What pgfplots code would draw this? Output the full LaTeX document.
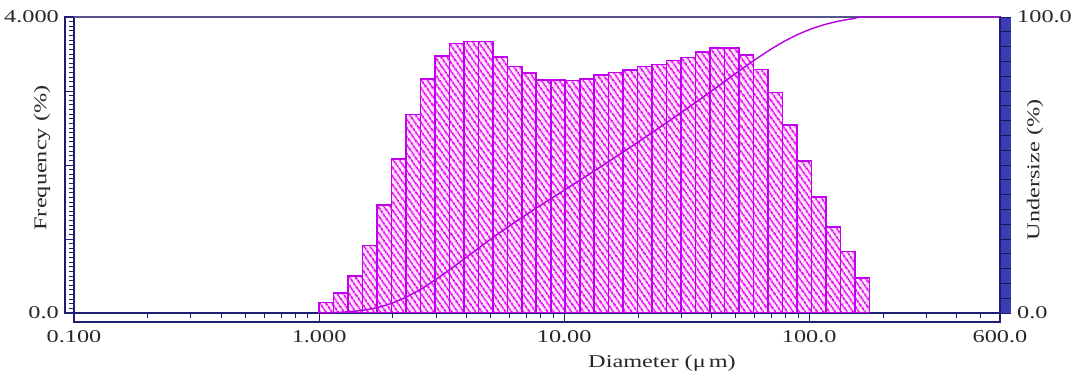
\documentclass[border=0pt]{standalone}
\usepackage{pgfplots}
\pgfplotsset{compat=1.18}
\usepackage{pgfplotstable}
\usepackage{fontspec}
\setmainfont{Liberation Serif}[FakeStretch=1.35]
\usetikzlibrary{patterns.meta}
\definecolor{navy}{RGB}{30,30,115}
\definecolor{topline}{RGB}{85,85,140}
\definecolor{stripblue}{RGB}{60,60,180}
\definecolor{barfill}{RGB}{255,228,255}
\definecolor{hatch}{RGB}{228,20,238}
\definecolor{baredge}{RGB}{195,0,235}
\definecolor{curvec}{RGB}{180,0,225}
\definecolor{txt}{RGB}{40,40,40}

\pgfplotstableread{
d f
1.0000 0.14
1.1457 0.27
1.3127 0.50
1.5040 0.91
1.7231 1.46
1.9742 2.08
2.2619 2.68
2.5916 3.16
2.9692 3.47
3.4019 3.64
3.8976 3.67
4.4656 3.67
5.1163 3.46
5.8619 3.33
6.7161 3.24
7.6949 3.15
8.8162 3.15
10.101 3.14
11.573 3.16
13.259 3.22
15.191 3.25
17.405 3.28
19.942 3.33
22.848 3.36
26.177 3.41
29.992 3.45
34.362 3.53
39.370 3.58
45.107 3.58
51.680 3.49
59.211 3.29
67.839 2.98
77.725 2.54
89.051 2.05
102.03 1.57
116.90 1.16
133.93 0.83
153.45 0.47
175.81 0
}\freqtable

\pgfplotstableread{
d c
1.0000 0
1.1457 0.14
1.3127 0.41
1.5040 0.90
1.7231 1.81
1.9742 3.26
2.2619 5.33
2.5916 7.99
2.9692 11.13
3.4019 14.58
3.8976 18.19
4.4656 21.84
5.1163 25.48
5.8619 28.92
6.7161 32.23
7.6949 35.45
8.8162 38.58
10.101 41.71
11.573 44.83
13.259 47.97
15.191 51.17
17.405 54.40
19.942 57.66
22.848 60.96
26.177 64.30
29.992 67.69
34.362 71.12
39.370 74.62
45.107 78.18
51.680 81.74
59.211 85.21
67.839 88.48
77.725 91.44
89.051 93.96
102.03 96.00
116.90 97.56
133.93 98.71
153.45 99.53
175.81 100.00
600 100.00
}\cumtable

\begin{document}
\fontsize{18bp}{20bp}\selectfont
\begin{tikzpicture}
\path[use as bounding box] (0,0) rectangle (1073bp,380bp);
% strips
\draw[navy, line width=1.2bp] (65bp,67bp) rectangle (74bp,363bp);
\draw[navy, line width=1.2bp] (74bp,58bp) rectangle (1000bp,67bp);
\fill[stripblue] (1000bp,67bp) rectangle (1011bp,363bp);
\begin{axis}[
  at={(74bp,67bp)}, anchor=south west,
  scale only axis, width=926bp, height=296bp,
  xmode=log, xmin=0.1, xmax=600, ymin=0, ymax=4,
  axis line style={navy, line width=1.2bp},
  every tick/.style={navy, line width=0.9bp},
  tick align=outside,
  major tick length=9bp, minor tick length=5bp,
  xtick={0.1,1,10,100,600},
  xticklabels={0.100,1.000,10.00,100.0,600.0},
  minor xtick={0.2,0.3,0.4,0.5,0.6,0.7,0.8,0.9,2,3,4,5,6,7,8,9,20,30,40,50,60,70,80,90,200,300,400,500},
  ytick={0,1,2,3,4},
  yticklabels={0.0,,,,4.000},
  minor y tick num=15,
  xtick pos=bottom, ytick pos=left,
  tick label style={text=txt},
  xticklabel style={yshift=-2bp},
  xlabel={Diameter (μ\,m)},
  xlabel style={at={(axis description cs:0.635,0)}, anchor=center, yshift=-50bp, text=txt},
  ylabel={Frequency (\%)},
  ylabel style={at={(axis description cs:0,0.5)}, anchor=center, xshift=7bp, yshift=32bp, text=txt},
]
\addplot[ybar interval, preaction={fill=barfill},
  pattern={Lines[angle=-55,distance=5.2bp,line width=2.2bp]}, pattern color=hatch,
  draw=baredge, line width=1.6bp]
  table[x=d,y=f] {\freqtable};
\end{axis}
\draw[topline, line width=1.4bp] (74bp,363bp) -- (1000bp,363bp);
\begin{axis}[
  at={(74bp,67bp)}, anchor=south west,
  scale only axis, width=926bp, height=296bp,
  xmode=log, xmin=0.1, xmax=600, ymin=0, ymax=100,
  axis x line=none, axis y line*=right,
  axis line style={navy, line width=1.2bp},
  every tick/.style={navy!80!black, line width=0.9bp},
  tick align=outside,
  major tick length=11bp, minor tick length=11bp,
  ytick={0,100}, yticklabels={0.0,100.0},
  minor y tick num=19,
  tick label style={text=txt},
  ylabel={Undersize (\%)},
  ylabel style={at={(axis description cs:1,0.5)}, anchor=center, xshift=-5bp, yshift=-35bp, text=txt},
  clip=false,
]
\addplot[curvec, line width=1.4bp, smooth, tension=0.4, no markers]
  table[x=d,y=c] {\cumtable};
\end{axis}
\end{tikzpicture}
\end{document}
